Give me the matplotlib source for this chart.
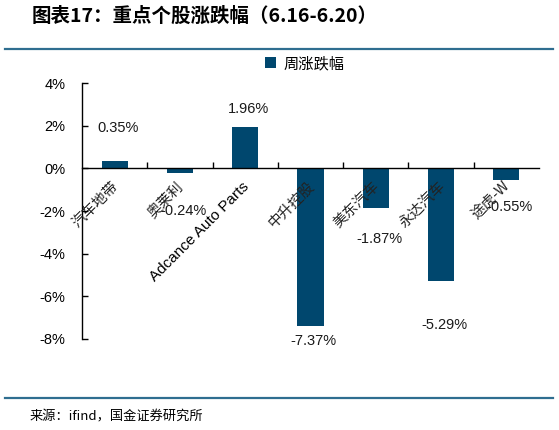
import matplotlib
matplotlib.use("Agg")
import matplotlib.pyplot as plt
import numpy as np
from matplotlib.lines import Line2D
from matplotlib.ticker import FuncFormatter, FixedLocator

plt.rcParams['font.family'] = ['Noto Sans CJK SC', 'DejaVu Sans']
plt.rcParams['axes.unicode_minus'] = False  # 负号显示

# 数据
stocks = ["汽车地带", "奥莱利", "Adcance Auto Parts", "中升控股", "美东汽车", "永达汽车", "途虎-W"]
weekly_change = [0.35, -0.24, 1.96, -7.37, -1.87, -5.29, -0.55]
label_offsets = [1.52, -1.78, 0.81, -0.74, -1.46, -2.07, -1.28]
y_ticks = [4, 2, 0, -2, -4, -6, -8]

title = "图表17：重点个股涨跌幅（6.16-6.20）"
source = "来源：ifind，国金证券研究所"
legend_name = "周涨跌幅"

bar_color = '#00476E'
line_color = '#2F6E90'

fig = plt.figure(figsize=(5.59, 4.30), dpi=100)
ax = fig.add_axes([82 / 559, 1 - 339 / 430, (539 - 82) / 559, (339 - 83) / 430])

x = np.arange(len(stocks))
ax.bar(x, weekly_change, width=0.4, color=bar_color, label=legend_name, zorder=2)
ax.set_axisbelow(False)  # 坐标轴标签画在柱子上面

# 数值标签
for i, v in enumerate(weekly_change):
    ax.text(x[i] + 0.05, v + label_offsets[i], "%.2f%%" % v, ha='center', va='center',
            fontsize=10.5, family=['Liberation Sans', 'DejaVu Sans'], color='#1a1a1a')

ax.set_xlim(-0.5, len(stocks) - 0.5)
ax.set_ylim(-8, 4)
ax.set_yticks(y_ticks)
ax.yaxis.set_major_formatter(FuncFormatter(lambda v, p: "%d%%" % v))
for lab in ax.get_yticklabels():
    lab.set_fontfamily(['Liberation Sans', 'DejaVu Sans'])
    lab.set_fontsize(10.5)
ax.tick_params(axis='y', direction='in', length=4, width=1, pad=12)

# x轴放在0位置
ax.spines['top'].set_visible(False)
ax.spines['right'].set_visible(False)
ax.spines['bottom'].set_position(('data', 0))
ax.spines['bottom'].set_linewidth(1)
ax.spines['left'].set_linewidth(1)

ax.set_xticks(x + 0.1)
ax.set_xticklabels(stocks, rotation=45, ha='right', va='top')
for lab in ax.get_xticklabels():
    if lab.get_text().startswith("Adcance"):
        lab.set_fontfamily(['Liberation Sans', 'DejaVu Sans'])
        lab.set_fontsize(11)
    else:
        lab.set_fontsize(10.5)
        lab.set_color('#222222')
ax.tick_params(axis='x', which='major', length=0, pad=8)
ax.xaxis.set_minor_locator(FixedLocator(x[:-1] + 0.5))
ax.tick_params(axis='x', which='minor', direction='in', length=4, width=1)

leg = ax.legend(loc='upper left', bbox_to_anchor=(265 / 559, 1 - 55 / 430), bbox_transform=fig.transFigure,
                frameon=False, fontsize=11, handlelength=0.7, handleheight=0.7, handletextpad=0.5,
                borderaxespad=0, borderpad=0)

# 标题、分割线与来源
fig.text(32 / 559, 1 - 16 / 430, title, fontsize=14, fontweight='bold', ha='left', va='center')
fig.add_artist(Line2D([5 / 559, 553 / 559], [1 - 49 / 430, 1 - 49 / 430], color=line_color, lw=1.6))
fig.add_artist(Line2D([5 / 559, 553 / 559], [1 - 398 / 430, 1 - 398 / 430], color=line_color, lw=1.6))
fig.text(30 / 559, 1 - 417 / 430, source, fontsize=9.5, ha='left', va='center')

fig.savefig("out.png", dpi=100)
plt.close(fig)
